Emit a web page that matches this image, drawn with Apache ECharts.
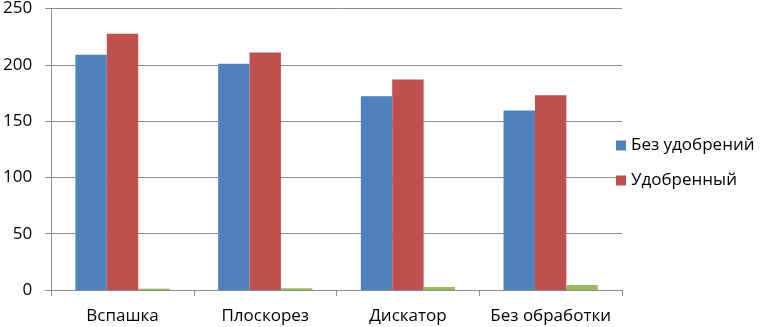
<!DOCTYPE html>
<html>
<head>
<meta charset="utf-8">
<script src="https://cdn.jsdelivr.net/npm/echarts@6/dist/echarts.min.js"></script>
<style>
  html, body { margin: 0; padding: 0; background: #fff; }
  #chart { width: 762px; height: 327px; }
</style>
</head>
<body>
<div id="chart"></div>
<script>
// категории и значения
const categories = ["Вспашка", "Плоскорез", "Дискатор", "Без обработки"];
const bezUdobreniy = [209, 201, 172, 159.5];
const udobrenny = [227.5, 211, 187, 173];
const thirdSeries = [1.2, 1.5, 2.6, 4.4];
const yTicks = { min: 0, max: 250, interval: 50 };

const FONT = '"Open Sans", "Noto Sans", sans-serif';
const GRID_LINE = "#8c8c8c";

const chart = echarts.init(document.getElementById("chart"), null, { renderer: "canvas" });

chart.setOption({
  animation: false,
  backgroundColor: "#ffffff",
  textStyle: { fontFamily: FONT, color: "#000" },
  grid: { left: 50, right: 140, top: 7, bottom: 37, containLabel: false },
  legend: {
    data: ["Без удобрений", "Удобренный"],
    orient: "vertical",
    left: 611,
    top: 132,
    itemWidth: 10,
    itemHeight: 10,
    itemGap: 18,
    icon: "rect",
    textStyle: { fontFamily: FONT, fontSize: 17, color: "#000" },
  },
  xAxis: {
    type: "category",
    data: categories,
    axisLine: { lineStyle: { color: GRID_LINE, width: 1 } },
    axisTick: { show: true, length: 6, lineStyle: { color: GRID_LINE } },
    axisLabel: { interval: 0, fontFamily: FONT, fontSize: 17, color: "#000", margin: 18 },
  },
  yAxis: {
    type: "value",
    min: yTicks.min,
    max: yTicks.max,
    interval: yTicks.interval,
    axisLine: { show: true, lineStyle: { color: GRID_LINE, width: 1 } },
    axisTick: { show: true, length: 6, lineStyle: { color: GRID_LINE } },
    axisLabel: { fontFamily: FONT, fontSize: 17, color: "#000", margin: 19 },
    splitLine: { show: true, lineStyle: { color: GRID_LINE, width: 1 } },
  },
  series: [
    {
      name: "Без удобрений",
      type: "bar",
      data: bezUdobreniy,
      itemStyle: { color: "#4f81bd" },
      barGap: "0%",
      barCategoryGap: "34%",
    },
    {
      name: "Удобренный",
      type: "bar",
      data: udobrenny,
      itemStyle: { color: "#c0504d" },
      barGap: "0%",
      barCategoryGap: "34%",
    },
    {
      name: "Ряд3",
      type: "bar",
      data: thirdSeries,
      itemStyle: { color: "#9bbb59" },
      barGap: "0%",
      barCategoryGap: "34%",
    },
  ],
});
</script>
</body>
</html>
